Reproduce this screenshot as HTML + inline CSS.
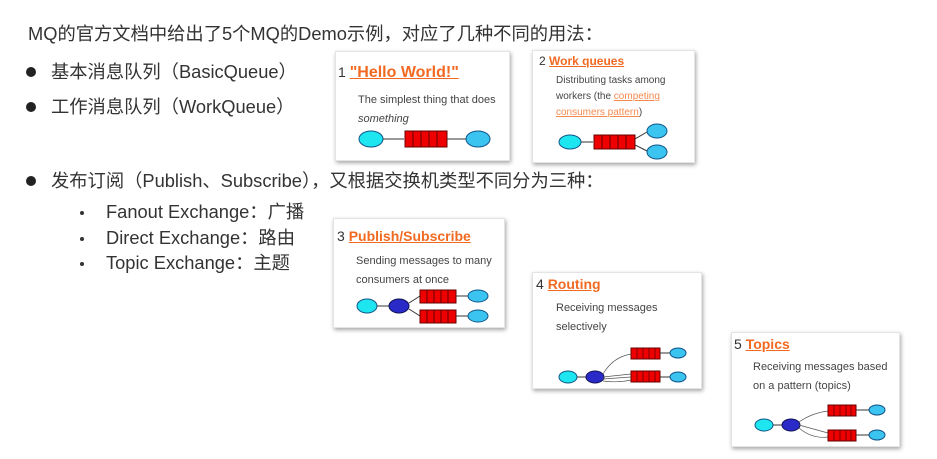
<!DOCTYPE html>
<html><head><meta charset="utf-8"><style>
*{margin:0;padding:0;box-sizing:border-box}
body{width:937px;height:459px;background:#fff;position:relative;overflow:hidden;font-family:"Liberation Sans","Noto Sans CJK SC",sans-serif;color:#333}
.t{position:absolute;white-space:nowrap;font-size:18.3px;line-height:24px}
.dot{position:absolute;width:10px;height:10px;border-radius:50%;background:#222}
.sd{position:absolute;width:4px;height:4px;border-radius:50%;background:#333}
.card{position:absolute;background:#fff;box-shadow:1px 2px 4px rgba(0,0,0,.35);border:1px solid #e4e4e4}
.h{position:absolute;white-space:nowrap;font-size:14px;color:#333}
.h b{color:#f26a21;text-decoration:underline;font-weight:bold}
.d{position:absolute;white-space:nowrap;font-size:11px;line-height:19px;color:#444}
.d a{color:#f58a4f;text-decoration:underline}
svg{position:absolute}
</style></head><body>
<div class="t" style="left:28px;top:22px">MQ的官方文档中给出了5个MQ的Demo示例，对应了几种不同的用法：</div>
<div class="dot" style="left:26px;top:67px"></div><div class="t" style="left:51px;top:60px">基本消息队列（BasicQueue）</div>
<div class="dot" style="left:26px;top:102px"></div><div class="t" style="left:51px;top:95px">工作消息队列（WorkQueue）</div>
<div class="dot" style="left:26px;top:176px"></div><div class="t" style="left:51px;top:169px">发布订阅（Publish、Subscribe），又根据交换机类型不同分为三种：</div>
<div class="sd" style="left:80px;top:211px"></div><div class="t" style="left:106px;top:200px">Fanout Exchange：广播</div>
<div class="sd" style="left:80px;top:237px"></div><div class="t" style="left:106px;top:226px">Direct Exchange：路由</div>
<div class="sd" style="left:80px;top:262px"></div><div class="t" style="left:106px;top:251px">Topic Exchange：主题</div>

<div class="card" style="left:335px;top:51px;width:175px;height:110px">
<div class="h" style="left:2px;top:12px">1 <b style="font-size:16px">"Hello World!"</b></div>
<div class="d" style="left:22px;top:39px">The simplest thing that does<br><i>something</i></div>
<svg width="175" height="110" style="left:0;top:0"><ellipse cx="35" cy="87" rx="12" ry="8" fill="#1ee6f0" stroke="#158"/><line x1="47" y1="87" x2="68" y2="87" stroke="#333"/><rect x="69" y="79" width="42" height="16" fill="#e00" stroke="#600"/><path d="M77 79v16M85 79v16M93 79v16M101 79v16" stroke="#600"/><line x1="111" y1="87" x2="130" y2="87" stroke="#333"/><ellipse cx="142" cy="87" rx="12" ry="8" fill="#3bc4f0" stroke="#158"/></svg>
</div>

<div class="card" style="left:532px;top:50px;width:163px;height:113px">
<div class="h" style="left:6px;top:3px;font-size:12px">2 <b>Work queues</b></div>
<div class="d" style="left:23px;top:22px;font-size:10px;line-height:16px">Distributing tasks among<br>workers (the <a>competing</a><br><a>consumers pattern</a>)</div>
<svg width="163" height="113" style="left:0;top:0"><ellipse cx="37" cy="91" rx="11" ry="7" fill="#1ee6f0" stroke="#158"/><line x1="48" y1="91" x2="60" y2="91" stroke="#333"/><rect x="61" y="84" width="41" height="14" fill="#e00" stroke="#600"/><path d="M69 84v14M77 84v14M85 84v14M93 84v14" stroke="#600"/><path d="M102 88L114 81M102 94L114 100" stroke="#333"/><ellipse cx="124" cy="80" rx="10" ry="7" fill="#3bc4f0" stroke="#158"/><ellipse cx="124" cy="101" rx="10" ry="7" fill="#3bc4f0" stroke="#158"/></svg>
</div>

<div class="card" style="left:333px;top:218px;width:172px;height:110px">
<div class="h" style="left:3px;top:9px">3 <b>Publish/Subscribe</b></div>
<div class="d" style="left:22px;top:33px">Sending messages to many<br>consumers at once</div>
<svg width="172" height="110" style="left:0;top:0"><ellipse cx="33" cy="87" rx="10" ry="7" fill="#1ee6f0" stroke="#158"/><line x1="43" y1="87" x2="55" y2="87" stroke="#333"/><ellipse cx="65" cy="87" rx="10" ry="7" fill="#2a2ac8" stroke="#115"/><path d="M75 84L86 77M75 90L86 97" stroke="#333"/><rect x="86" y="71" width="36" height="13" fill="#e00" stroke="#600"/><rect x="86" y="91" width="36" height="13" fill="#e00" stroke="#600"/><path d="M93 71v13M100 71v13M107 71v13M114 71v13M93 91v13M100 91v13M107 91v13M114 91v13" stroke="#600"/><path d="M122 77h12M122 97h12" stroke="#333"/><ellipse cx="144" cy="77" rx="10" ry="6" fill="#3bc4f0" stroke="#158"/><ellipse cx="144" cy="97" rx="10" ry="6" fill="#3bc4f0" stroke="#158"/></svg>
</div>

<div class="card" style="left:532px;top:272px;width:170px;height:117px">
<div class="h" style="left:3px;top:3px">4 <b>Routing</b></div>
<div class="d" style="left:23px;top:26px">Receiving messages<br>selectively</div>
<svg width="170" height="117" style="left:0;top:0"><ellipse cx="35" cy="104" rx="9" ry="6" fill="#1ee6f0" stroke="#158"/><line x1="44" y1="104" x2="53" y2="104" stroke="#333"/><ellipse cx="62" cy="104" rx="9" ry="6" fill="#2a2ac8" stroke="#115"/><path d="M70 101Q80 84 98 81M70 104L98 101M70 106L98 104M70 108Q85 110 98 107" stroke="#555" fill="none" stroke-width=".7"/><rect x="98" y="75" width="29" height="11" fill="#e00" stroke="#600"/><rect x="98" y="98" width="29" height="11" fill="#e00" stroke="#600"/><path d="M104 75v11M110 75v11M116 75v11M122 75v11M104 98v11M110 98v11M116 98v11M122 98v11" stroke="#600" stroke-width=".8"/><path d="M127 80h10M127 104h10" stroke="#333"/><ellipse cx="145" cy="80" rx="8" ry="5" fill="#3bc4f0" stroke="#158"/><ellipse cx="145" cy="104" rx="8" ry="5" fill="#3bc4f0" stroke="#158"/></svg>
</div>

<div class="card" style="left:731px;top:332px;width:169px;height:115px">
<div class="h" style="left:2px;top:3px">5 <b>Topics</b></div>
<div class="d" style="left:21px;top:25px">Receiving messages based<br>on a pattern (topics)</div>
<svg width="169" height="115" style="left:0;top:0"><ellipse cx="32" cy="92" rx="9" ry="6" fill="#1ee6f0" stroke="#158"/><line x1="41" y1="92" x2="50" y2="92" stroke="#333"/><ellipse cx="59" cy="92" rx="9" ry="6" fill="#2a2ac8" stroke="#115"/><path d="M67 89Q80 80 96 78M67 92L96 100M67 95Q80 106 96 104" stroke="#555" fill="none" stroke-width=".7"/><rect x="96" y="72" width="28" height="11" fill="#e00" stroke="#600"/><rect x="96" y="97" width="28" height="11" fill="#e00" stroke="#600"/><path d="M102 72v11M108 72v11M114 72v11M119 72v11M102 97v11M108 97v11M114 97v11M119 97v11" stroke="#600" stroke-width=".8"/><path d="M124 77h13M124 102h13" stroke="#333"/><ellipse cx="145" cy="77" rx="8" ry="5" fill="#3bc4f0" stroke="#158"/><ellipse cx="145" cy="102" rx="8" ry="5" fill="#3bc4f0" stroke="#158"/></svg>
</div>
</body></html>
